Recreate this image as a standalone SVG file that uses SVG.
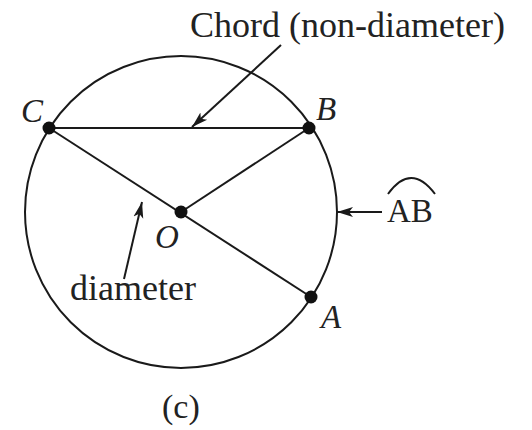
<svg xmlns="http://www.w3.org/2000/svg" width="532" height="430" viewBox="0 0 532 430">
<style>
.ln{stroke:#1a1a1a;stroke-width:2;fill:none}
.dot{fill:#111}
.t{font-family:"Liberation Serif","Times New Roman",serif;fill:#222;font-size:36px}
.it{font-style:italic;font-size:33px}
</style>
<defs>
<marker id="ah" markerUnits="userSpaceOnUse" markerWidth="18" markerHeight="12" refX="16" refY="6" orient="auto">
<path d="M0,1 L16,6 L0,11 L4,6 z" fill="#1a1a1a"/>
</marker>
</defs>
<rect width="532" height="430" fill="#fff"/>
<g id="circle"><circle class="ln" cx="181" cy="212" r="156"/></g>
<g id="connectors">
<line id="chord-CB" class="ln" x1="49" y1="128" x2="309" y2="128"/>
<line id="diameter-CA" class="ln" x1="49" y1="128" x2="311" y2="297"/>
<line id="radius-OB" class="ln" x1="181" y1="212" x2="309" y2="128"/>
<line id="arrow-chord" class="ln" x1="281" y1="45" x2="192" y2="127" marker-end="url(#ah)"/>
<line id="arrow-diameter" class="ln" x1="124" y1="279" x2="142" y2="202" marker-end="url(#ah)"/>
<line id="arrow-arc" class="ln" x1="382" y1="212" x2="337" y2="212" marker-end="url(#ah)"/>
</g>
<g id="point-C"><circle class="dot" cx="49" cy="128" r="6.5"/><text class="t it" x="21" y="122">C</text></g>
<g id="point-B"><circle class="dot" cx="309" cy="128" r="6.5"/><text class="t it" x="316" y="120">B</text></g>
<g id="point-O"><circle class="dot" cx="181" cy="212" r="6.5"/><text class="t it" x="155" y="248">O</text></g>
<g id="point-A"><circle class="dot" cx="311" cy="297" r="6.5"/><text class="t it" x="321" y="328">A</text></g>
<g id="label-chord"><text class="t" x="190" y="37">Chord (non-diameter)</text></g>
<g id="label-diameter"><text class="t" x="70" y="300">diameter</text></g>
<g id="label-arc"><text class="t" x="387" y="222" style="font-size:33px">AB</text><path class="ln" d="M388,194 Q411,162 435,194"/></g>
<g id="label-c"><text class="t" x="162" y="418" style="font-size:34px">(c)</text></g>
</svg>
